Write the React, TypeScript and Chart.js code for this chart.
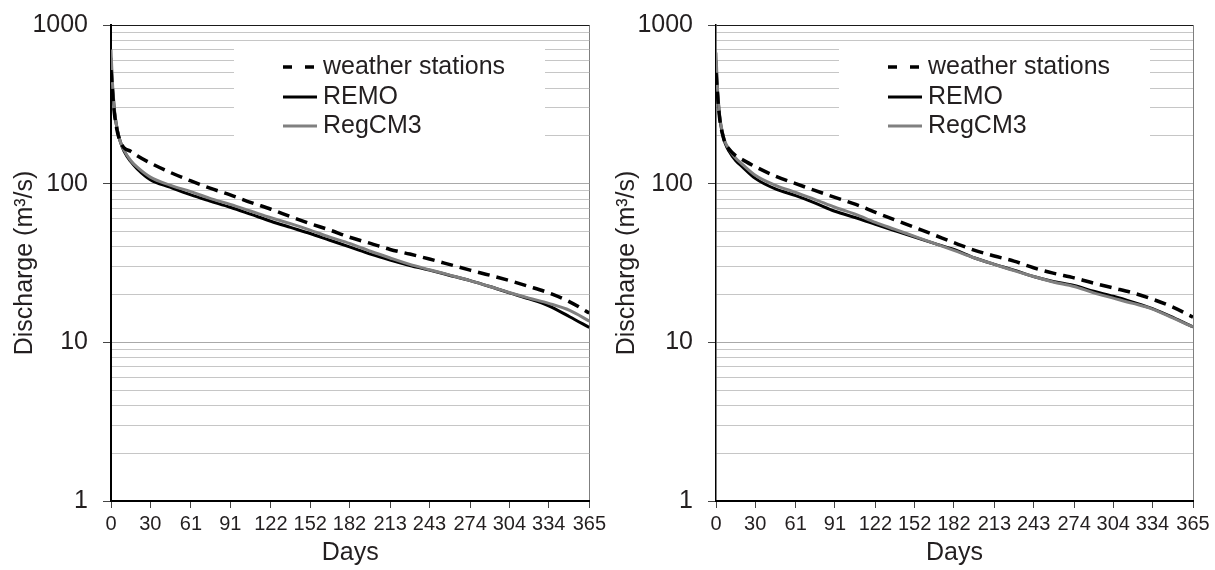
import React, { useEffect, useRef } from 'react';
import { Chart, registerables } from 'chart.js';

Chart.register(...registerables);

// ---------------- data ----------------
const days = [0, 1, 2, 3, 5, 7, 10, 15, 20, 30, 45, 61, 75, 91, 107, 122, 137, 152, 167, 182, 198, 213, 228, 243, 258, 274, 289, 304, 319, 334, 350, 365];

const xTickValues = [0, 30, 61, 91, 122, 152, 182, 213, 243, 274, 304, 334, 365];
const yGridValues = [1, 2, 3, 4, 5, 6, 7, 8, 9, 10, 20, 30, 40, 50, 60, 70, 80, 90, 100, 200, 300, 400, 500, 600, 700, 800, 900, 1000];
const yLabelValues = [1, 10, 100, 1000];

const seriesNames = ['weather stations', 'REMO', 'RegCM3'];

// left panel
const leftWeather = [520, 400, 310, 260, 210, 185, 168, 160, 150, 135, 118, 104, 94, 85, 76, 69, 62, 56, 51, 46, 42, 38.5, 36, 33.5, 31, 28.5, 26.5, 24.5, 22.5, 20.5, 18, 15.3];
const leftREMO = [620, 420, 330, 270, 215, 185, 160, 138, 124, 106, 95, 85, 78, 71, 64, 58, 53, 48.5, 44, 40, 36, 33, 30.5, 28.5, 26.5, 24.5, 22.5, 20.5, 18.8, 17, 14.5, 12.4];
const leftRegCM3 = [700, 450, 340, 275, 215, 185, 162, 140, 127, 110, 98, 89, 81, 74, 67, 61, 56, 51, 46, 42, 37.5, 34, 31, 28.7, 26.6, 24.5, 22.5, 20.6, 19, 17.6, 15.9, 13.6];

// right panel
const rightWeather = [500, 380, 300, 250, 205, 180, 165, 150, 142, 128, 112, 100, 91, 82, 74, 66, 59, 53, 47.5, 42.5, 38, 35, 32.5, 29.5, 27.3, 25.5, 23.6, 22, 20.5, 18.7, 16.6, 14.4];
const rightREMO = [600, 400, 310, 255, 205, 180, 160, 140, 128, 108, 93, 84, 76, 67, 61, 55.5, 50.5, 46, 42, 38.5, 34, 31, 28.5, 26, 24.2, 22.8, 21, 19.5, 17.9, 16.3, 14.3, 12.5];
const rightRegCM3 = [670, 420, 320, 260, 210, 183, 165, 145, 133, 113, 98, 88, 80, 71, 64, 57, 51.5, 46.5, 42, 38, 34, 31, 28.3, 26, 24, 22.5, 20.5, 19, 17.6, 16.2, 14.2, 12.5];

// ---------------- styling ----------------
const FONT = '"Liberation Sans", Arial, Helvetica, sans-serif';
const TEXT = '#231f20';
const seriesColors = ['#000000', '#000000', '#808080'];
const seriesWidths = [3.5, 3, 3];
const seriesDash: number[][] = [[12, 7], [], []];
const seriesOrder = [0, 2, 1];

const isMajor = (v: number) => yLabelValues.indexOf(v) >= 0;

const legendPlugin = {
  id: 'insideLegend',
  beforeDatasetsDraw(chart: any) {
    const { ctx, chartArea: a } = chart;
    ctx.save();
    ctx.fillStyle = '#ffffff';
    ctx.fillRect(a.left + 123, a.top + 20, 311, 107);
    const rowY = [a.top + 42, a.top + 72, a.top + 101];
    chart.data.datasets.forEach((ds: any, i: number) => {
      const y = rowY[i];
      ctx.beginPath();
      ctx.strokeStyle = ds.borderColor;
      ctx.lineWidth = ds.borderWidth;
      ctx.setLineDash(i === 0 ? [9, 13] : []);
      ctx.moveTo(a.left + 172, y);
      ctx.lineTo(a.left + 206, y);
      ctx.stroke();
      ctx.setLineDash([]);
      ctx.fillStyle = TEXT;
      ctx.font = `25px ${FONT}`;
      ctx.textAlign = 'left';
      ctx.textBaseline = 'middle';
      ctx.fillText(ds.label, a.left + 212, y);
    });
    ctx.restore();
  },
};

type PanelOpts = {
  yWidth: number;
  padRight: number;
  titlePad: number;
  axisWidth: number;
};

function makeConfig(series: number[][], o: PanelOpts): any {
  return {
    type: 'line',
    data: {
      datasets: series.map((vals, i) => ({
        label: seriesNames[i],
        data: days.map((d, j) => ({ x: d, y: vals[j] })),
        borderColor: seriesColors[i],
        backgroundColor: seriesColors[i],
        borderWidth: seriesWidths[i],
        borderDash: seriesDash[i],
        pointRadius: 0,
        fill: false,
        cubicInterpolationMode: 'monotone',
        order: seriesOrder[i],
      })),
    },
    options: {
      responsive: false,
      animation: false,
      events: [],
      layout: { padding: { left: 0, top: 25, right: o.padRight, bottom: 0 } },
      plugins: { legend: { display: false }, tooltip: { enabled: false } },
      scales: {
        x: {
          type: 'linear',
          min: 0,
          max: 365,
          afterBuildTicks: (s: any) => {
            s.ticks = xTickValues.map((v) => ({ value: v }));
          },
          afterFit: (s: any) => {
            s.height = 69;
          },
          ticks: {
            autoSkip: false,
            maxRotation: 0,
            minRotation: 0,
            font: { size: 20, family: FONT },
            color: TEXT,
            padding: 4,
            callback: (v: any) => String(v),
          },
          grid: {
            drawOnChartArea: true,
            color: (c: any) => (c.tick && c.tick.value === 365 ? '#7f7f7f' : 'rgba(0,0,0,0)'),
            lineWidth: 1,
            tickLength: 7,
            tickColor: '#444444',
          },
          border: { color: '#000000', width: 2 },
          title: {
            display: true,
            text: 'Days',
            font: { size: 25, family: FONT },
            color: TEXT,
            padding: { top: 0, bottom: 2 },
          },
        },
        y: {
          type: 'logarithmic',
          min: 1,
          max: 1000,
          afterBuildTicks: (s: any) => {
            s.ticks = yGridValues.map((v) => ({ value: v }));
          },
          afterFit: (s: any) => {
            s.width = o.yWidth;
          },
          ticks: {
            autoSkip: false,
            font: { size: 25, family: FONT, lineHeight: 0.7 },
            color: TEXT,
            padding: 15,
            callback: (v: any) => (isMajor(Number(v)) ? String(v) : ''),
          },
          grid: {
            color: (c: any) => {
              const v = c.tick ? c.tick.value : 0;
              if (v === 1000) return '#1a1a1a';
              if (v === 10 || v === 100) return '#a9a9a9';
              return '#c6c6c6';
            },
            lineWidth: 1,
            tickLength: 8,
            tickColor: (c: any) => (c.tick && isMajor(c.tick.value) ? '#444444' : 'rgba(0,0,0,0)'),
          },
          border: { color: '#000000', width: o.axisWidth },
          title: {
            display: true,
            text: 'Discharge (m³/s)',
            font: { size: 25, family: FONT },
            color: TEXT,
            padding: { top: o.titlePad, bottom: 0 },
          },
        },
      },
    },
    plugins: [legendPlugin],
  };
}

function Panel(props: { series: number[][]; opts: PanelOpts; left: number; width: number }) {
  const ref = useRef<HTMLCanvasElement | null>(null);
  useEffect(() => {
    if (!ref.current) return;
    const chart = new Chart(ref.current, makeConfig(props.series, props.opts));
    return () => chart.destroy();
  }, []);
  return (
    <canvas
      ref={ref}
      width={props.width}
      height={570}
      style={{ position: 'absolute', left: props.left, top: 0, width: props.width, height: 570 }}
    />
  );
}

export default function App() {
  Chart.defaults.font.family = FONT;
  return (
    <div style={{ position: 'absolute', left: 0, top: 0, width: 1215, height: 570, background: '#ffffff', overflow: 'hidden' }}>
      <Panel
        series={[leftWeather, leftREMO, leftRegCM3]}
        opts={{ yWidth: 111, padRight: 20, titlePad: 10, axisWidth: 2 }}
        left={0}
        width={610}
      />
      <Panel
        series={[rightWeather, rightREMO, rightRegCM3]}
        opts={{ yWidth: 106, padRight: 22, titlePad: 2, axisWidth: 1.5 }}
        left={610}
        width={605}
      />
    </div>
  );
}
